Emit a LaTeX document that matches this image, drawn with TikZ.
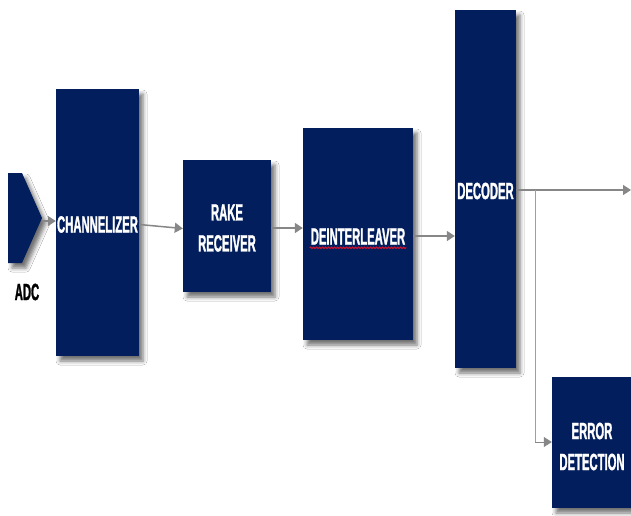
\documentclass[tikz,border=0pt]{standalone}
\usepackage{fontspec}
\newfontfamily\boxfont{Liberation Sans}[FakeStretch=0.48, FakeBold=1.2]
\usetikzlibrary{arrows.meta,shadows.blur,decorations.pathmorphing}
\definecolor{navy}{RGB}{2,30,92}
\definecolor{arrowgray}{RGB}{135,135,135}
\definecolor{spellred}{RGB}{200,20,50}
\tikzset{
  blk/.style={fill=navy, draw=none, inner sep=0pt, align=center,
    blur shadow={shadow xshift=4pt, shadow yshift=-5pt, shadow blur radius=4pt, shadow opacity=55}},
  txt/.style={text=white, font=\boxfont\bfseries\fontsize{23.5}{31}\selectfont, align=center, inner sep=0pt},
  lbl/.style={text=black, font=\boxfont\bfseries\fontsize{23.5}{31}\selectfont, inner sep=0pt},
  conn/.style={draw=arrowgray, line width=1.5pt, -{Triangle[length=8pt,width=10pt]}},
  thinline/.style={draw=arrowgray!80, line width=1pt}
}
\begin{document}
\begin{tikzpicture}[x=1pt,y=-1pt]
\useasboundingbox (0,0) rectangle (631,515);
\fill[white] (0,0) rectangle (631,515);
% ADC pentagon
\path[fill=navy, blur shadow={shadow xshift=4pt, shadow yshift=-5pt, shadow blur radius=4pt, shadow opacity=55}]
  (8,173) -- (22,173) -- (42,218) -- (22,263) -- (8,263) -- cycle;
\coordinate (adctip) at (42,221);
\node[lbl] (adclbl) at (27,292) {ADC};
% blocks
\node[blk, minimum width=83pt, minimum height=267pt] (chan) at (97.5,222.5) {};
\node[txt] (chantxt) at (97.5,224.5) {CHANNELIZER};
\node[blk, minimum width=88pt, minimum height=132pt] (rake) at (227,226) {};
\node[txt] (raketxt) at (227,228) {RAKE\\RECEIVER};
\node[blk, minimum width=110pt, minimum height=212pt] (deint) at (358,234) {};
\node[txt] (deinttxt) at (358,236.5) {DEINTERLEAVER};
\node[blk, minimum width=61pt, minimum height=358pt] (dec) at (485.5,189) {};
\node[txt] (dectxt) at (485.5,191) {DECODER};
\node[blk, minimum width=80pt, minimum height=131pt] (err) at (592,442.5) {};
\node[txt] (errtxt) at (592,446.5) {ERROR\\DETECTION};
% spell-check underline
\draw[spellred, line width=1.1pt, decorate, decoration={snake, amplitude=0.7pt, segment length=3pt}]
  ([xshift=-1pt,yshift=-3pt]deinttxt.south west) -- ([xshift=1pt,yshift=-3pt]deinttxt.south east);
% connectors
\draw[conn] (adctip) -- (adctip -| chan.west);
\draw[conn] (chan.east |- 0,224.5) -- (rake.west |- 0,228.5);
\draw[conn] (rake.east |- 0,228) -- (deint.west |- 0,228);
\draw[conn] (deint.east |- 0,236) -- (dec.west |- 0,236);
\coordinate (outend) at (631,190);
\coordinate (branch) at (535,190);
\draw[conn] (dec.east |- outend) -- (outend);
\draw[thinline] (branch) -- (branch |- 0,442);
\draw[conn, line width=1pt] (branch |- 0,442) -- (err.west |- 0,442);
\end{tikzpicture}
\end{document}
